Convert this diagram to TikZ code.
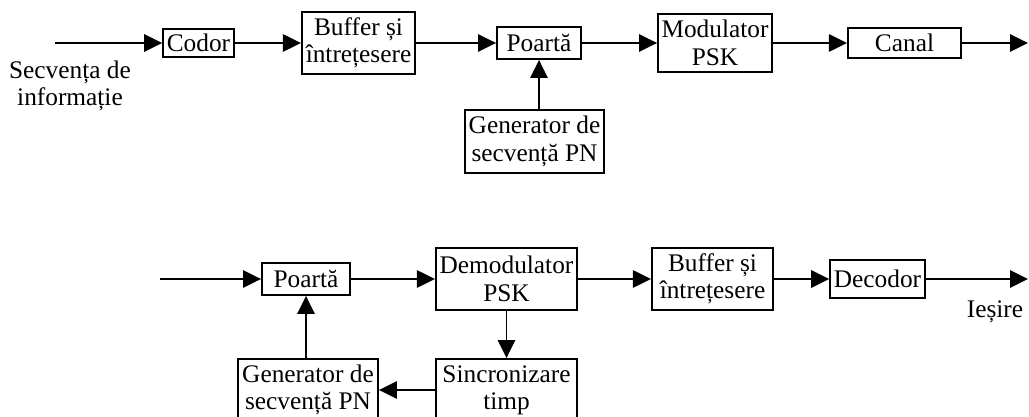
\documentclass[tikz,border=0pt]{standalone}
\usepackage{fontspec}
\setmainfont{Liberation Serif}
\usetikzlibrary{arrows.meta}
\begin{document}
\begin{tikzpicture}[x=0.75pt,y=-0.75pt,
  every node/.style ={font=\fontsize{19}{20.5}\selectfont, align=center, inner sep=0pt},
  block/.style ={draw, line width=1.4pt, minimum width=#1},
  flow/.style ={line width=1.4pt, -{Triangle[length=13.5pt,width=13pt]}}]
  \useasboundingbox (0,0) rectangle (1029,417);
  % emisie
  \coordinate (in1) at (55,43);
  \node[block=53pt, minimum height=21pt] (cod) at (198.5,43) {Codor};
  \node[block=85pt, minimum height=46pt] (buf1) at (358.5,43) {Buffer și\\întrețesere};
  \node[block=63pt, minimum height=24pt] (p1) at (539,43) {Poartă};
  \node[block=85.5pt, minimum height=43pt] (mod) at (715,43) {Modulator\\PSK};
  \node[block=85pt, minimum height=22.5pt] (can) at (904.5,43) {Canal};
  \coordinate (out1) at (1028,43);
  \node[block=104pt, minimum height=47pt] (gen1) at (534.5,141.5) {Generator de\\secvență PN};
  \node (info) at (70,86) {Secvența de\\informație};
  \draw[flow] (in1) -- (cod);
  \draw[flow] (cod) -- (buf1);
  \draw[flow] (buf1) -- (p1);
  \draw[flow] (p1) -- (mod);
  \draw[flow] (mod) -- (can);
  \draw[flow] (can) -- (out1);
  \draw[flow] (gen1.north -| p1) -- (p1.south);
  % receptie
  \coordinate (in2) at (160,279);
  \node[block=66pt, minimum height=24pt] (p2) at (306,279) {Poartă};
  \node[block=106pt, minimum height=46.5pt] (dem) at (506.5,279) {Demodulator\\PSK};
  \node[block=91pt, minimum height=46.5pt] (buf2) at (712.5,279) {Buffer și\\întrețesere};
  \node[block=71pt, minimum height=28.5pt] (dec) at (877.5,279) {Decodor};
  \coordinate (out2) at (1028,279);
  \node (ies) at (995,312) {Ieșire};
  \node[block=106pt, minimum height=46.5pt] (sin) at (506.5,390) {Sincronizare\\timp};
  \node[block=105pt, minimum height=46.5pt] (gen2) at (308,390) {Generator de\\secvență PN};
  \draw[flow] (in2) -- (p2);
  \draw[flow] (p2) -- (dem);
  \draw[flow] (dem) -- (buf2);
  \draw[flow] (buf2) -- (dec);
  \draw[flow] (dec) -- (out2);
  \draw[flow] (dem) -- (sin);
  \draw[flow] (sin) -- (gen2);
  \draw[flow] (gen2.north -| p2) -- (p2.south);
\end{tikzpicture}
\end{document}
